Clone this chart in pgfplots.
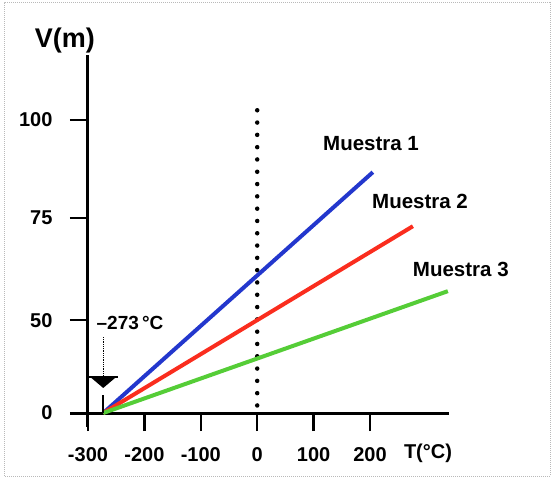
\documentclass[border=0pt]{standalone}
\usepackage{pgfplots}
\pgfplotsset{compat=1.18}
\usepackage{fontspec}
\setmainfont{Liberation Sans}
\definecolor{mblue}{RGB}{35,55,205}
\definecolor{mred}{RGB}{250,45,30}
\definecolor{mgreen}{RGB}{85,205,55}
\begin{document}
\begin{tikzpicture}[x=1pt,y=1pt]
\useasboundingbox (0,0) rectangle (557,480);
\draw[gray!55, densely dotted, line width=1pt] (4,4) rectangle (550,477);
\begin{axis}[
  at={(88pt,67pt)}, anchor=south west,
  scale only axis, width=361pt, height=358pt,
  xmin=-300, xmax=340, ymin=0, ymax=116.6,
  y coord trafo/.code={\pgfmathparse{(#1)<=50 ? 0.634*(#1) : ((#1)<=75 ? 31.7+1.394*((#1)-50) : 66.55+1.338*((#1)-75))}},
  axis x line*=bottom, axis y line*=left,
  x axis line style={-}, y axis line style={-},
  axis line style={line width=3pt, black},
  tick align=outside, major tick length=18pt,
  tick style={line width=2.5pt, black},
  xtick={-300,-200,-100,0,100,200},
  xticklabels={-300,-200,-100,0,100,200},
  ytick={0,50,75,100},
  yticklabels={0,50,75,100},
  xticklabel style={font=\fontsize{20}{22}\selectfont\bfseries, anchor=north, yshift=-13pt},
  yticklabel style={font=\fontsize{20}{22}\selectfont\bfseries, anchor=east, xshift=-14pt},
  clip=false,
]
% dotted line at 0 C
\addplot[black, line width=4.5pt, line cap=round, dash pattern=on 0pt off 12.3pt] coordinates {(0,102.5) (0,2)};
% samples
\addplot[mblue, line width=4pt] coordinates {(-273,0) (205,86.7)};
\addplot[mred, line width=4pt] coordinates {(-273,0) (276,73)};
\addplot[mgreen, line width=4pt] coordinates {(-273,0) (338,57.1)};
% axis extensions
\draw[line width=3pt] (axis cs:-300,0) -- ([xshift=-18pt]axis cs:-300,0);
\draw[line width=3pt] (axis cs:-300,0) -- ([yshift=-14pt]axis cs:-300,0);
% labels
\node[font=\fontsize{27}{30}\selectfont\bfseries] at (axis cs:-340.8,120.4) {V(m)};
\node[font=\fontsize{20}{22}\selectfont\bfseries] at (axis cs:302.8,-21.5) {T(°C)};
\node[font=\fontsize{20.5}{22}\selectfont\bfseries] at (axis cs:201.8,93.9) {Muestra 1};
\node[font=\fontsize{20.5}{22}\selectfont\bfseries] at (axis cs:288.7,79.3) {Muestra 2};
\node[font=\fontsize{20.5}{22}\selectfont\bfseries] at (axis cs:361,62.5) {Muestra 3};
\node[font=\fontsize{19}{21}\selectfont\bfseries] at (axis cs:-225.5,48.4) {–273\,°C};
% arrow to -273
\draw[densely dotted, line width=0.8pt] (axis cs:-273,40.9) -- (axis cs:-273,19.4);
\draw[line width=1.5pt] ([xshift=-15pt]axis cs:-273,19.4) -- ([xshift=15pt]axis cs:-273,19.4);
\fill ([xshift=-13pt]axis cs:-273,19.4) -- ([xshift=13pt]axis cs:-273,19.4) -- ([yshift=-11pt]axis cs:-273,19.4) -- cycle;
\draw[line width=2pt] (axis cs:-273,0) -- (axis cs:-273,9.7);
\end{axis}
\end{tikzpicture}
\end{document}
